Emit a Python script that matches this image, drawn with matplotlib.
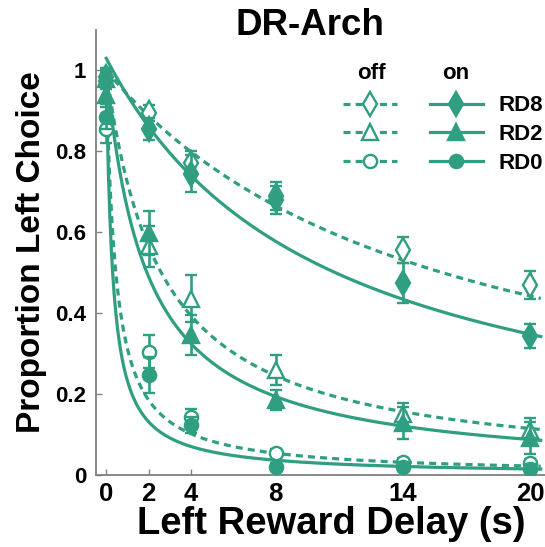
import numpy as np
import matplotlib
matplotlib.use("Agg")
import matplotlib.pyplot as plt
from matplotlib.lines import Line2D

plt.rcParams['font.family'] = ['Liberation Sans', 'DejaVu Sans']
plt.rcParams['font.weight'] = 'bold'

# Left reward delays (s)
delays = [0, 2, 4, 8, 14, 20]

# Mean proportion of left choices and SEM, laser off / on
rd8_off = [0.985, 0.895, 0.771, 0.690, 0.556, 0.469]
rd8_off_err = [0.020, 0.020, 0.030, 0.035, 0.033, 0.035]
rd8_on = [0.975, 0.856, 0.745, 0.680, 0.475, 0.343]
rd8_on_err = [0.020, 0.027, 0.045, 0.035, 0.050, 0.030]

rd2_off = [0.980, 0.565, 0.436, 0.259, 0.152, 0.111]
rd2_off_err = [0.020, 0.050, 0.058, 0.037, 0.025, 0.030]
rd2_on = [0.940, 0.598, 0.346, 0.185, 0.128, 0.091]
rd2_on_err = [0.030, 0.055, 0.050, 0.025, 0.040, 0.040]

rd0_off = [0.855, 0.305, 0.144, 0.055, 0.031, 0.029]
rd0_off_err = [0.035, 0.040, 0.020, 0.010, 0.010, 0.010]
rd0_on = [0.886, 0.247, 0.123, 0.019, 0.021, 0.016]
rd0_on_err = [0.030, 0.045, 0.020, 0.010, 0.010, 0.010]

# Hyperbolic discounting fits: P = A / (1 + k * D)
fit_A_off = [1.00, 1.00, 1.00]
fit_k_off = [0.063, 0.385, 2.2]
fit_A_on = [1.03, 1.00, 1.00]
fit_k_on = [0.098, 0.52, 3.3]

series_names = ['RD8', 'RD2', 'RD0']
markers = ['d', '^', 'o']
marker_sizes = [12, 11.5, 9.5]

y_ticks = [0, 0.2, 0.4, 0.6, 0.8, 1]
y_tick_labels = ['0', '0.2', '0.4', '0.6', '0.8', '1']

color = '#2f9e81'
dash = (0, (2.2, 1.6))

fig = plt.figure(figsize=(5.45, 5.47), dpi=100)
ax = fig.add_axes([0.176, 0.1316, 0.824, 0.8136])

off_vals = [rd8_off, rd2_off, rd0_off]
off_errs = [rd8_off_err, rd2_off_err, rd0_off_err]
on_vals = [rd8_on, rd2_on, rd0_on]
on_errs = [rd8_on_err, rd2_on_err, rd0_on_err]

d_fine = np.linspace(0, 20.5, 600)
for i in range(3):
    ax.plot(d_fine, fit_A_off[i] / (1 + fit_k_off[i] * d_fine), color=color,
            lw=2.3, ls=dash, zorder=2)
    ax.plot(d_fine, fit_A_on[i] / (1 + fit_k_on[i] * d_fine), color=color,
            lw=2.3, ls='-', zorder=2)

for i in range(3):
    ax.errorbar(delays, off_vals[i], yerr=off_errs[i], fmt=markers[i],
                ms=marker_sizes[i], mfc='white', mec=color, mew=1.7,
                ecolor=color, elinewidth=1.9, capsize=4.5, capthick=1.9,
                zorder=3)
    ax.errorbar(delays, on_vals[i], yerr=on_errs[i], fmt=markers[i],
                ms=marker_sizes[i], mfc=color, mec=color, mew=1.7,
                ecolor=color, elinewidth=1.9, capsize=4.5, capthick=1.9,
                zorder=4)

ax.set_xlim(-0.486, 20.70)
ax.set_ylim(0, 1.1)
ax.set_xticks(delays)
ax.set_xticklabels([str(d) for d in delays])
ax.set_yticks(y_ticks)
ax.set_yticklabels(y_tick_labels)
ax.tick_params(direction='in', length=4, width=1, color='#808080')
ax.tick_params(axis='x', labelsize=18.5, pad=5)
ax.tick_params(axis='y', labelsize=16, pad=7)
for side in ['top', 'right']:
    ax.spines[side].set_visible(False)
for side in ['left', 'bottom']:
    ax.spines[side].set_color('#808080')
    ax.spines[side].set_linewidth(1.3)

ax.set_xlabel('Left Reward Delay (s)', fontsize=27.5, fontweight='bold', labelpad=0)
ax.xaxis.label.set_x(0.523)
ax.set_ylabel('Proportion Left Choice', fontsize=24, fontweight='bold', labelpad=6)
ax.text(0.477, 0.989, 'DR-Arch', transform=ax.transAxes, ha='center',
        va='baseline', fontsize=26.5, fontweight='bold', clip_on=False)

# Legend: off column (dashed, open) and on column (solid, filled)
handles = []
labels = []
for i in range(3):
    handles.append(Line2D([], [], color=color, lw=2.3, ls=dash, marker=markers[i],
                          ms=marker_sizes[i], mfc='white', mec=color, mew=1.7))
    labels.append('')
for i in range(3):
    handles.append(Line2D([], [], color=color, lw=2.3, ls='-', marker=markers[i],
                          ms=marker_sizes[i], mfc=color, mec=color, mew=1.7))
    labels.append(series_names[i])
ax.legend(handles, labels, ncol=2, loc='center', bbox_to_anchor=(0.773, 0.765),
          frameon=False, handlelength=2.4, handletextpad=0.68,
          columnspacing=0.8, labelspacing=0.35, prop={'weight': 'bold', 'size': 16})
ax.text(0.6125, 0.903, 'off', transform=ax.transAxes, ha='center', va='center',
        fontsize=16, fontweight='bold')
ax.text(0.802, 0.903, 'on', transform=ax.transAxes, ha='center', va='center',
        fontsize=16, fontweight='bold')

fig.savefig('out.png', dpi=100)
